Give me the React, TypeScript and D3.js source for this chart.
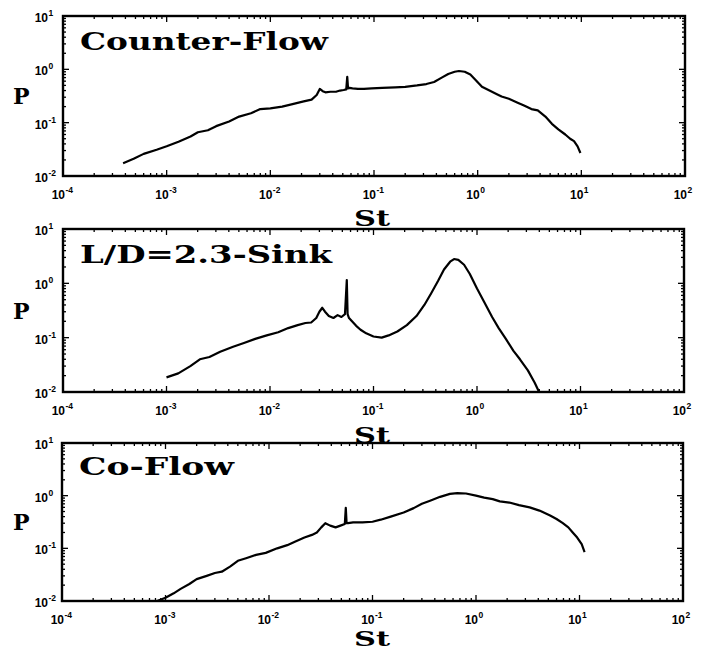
import React from "react";
import * as d3 from "d3";

// ---------- data ----------
const xTickExps = [-4, -3, -2, -1, 0, 1, 2];
const yTickExps = [-2, -1, 0, 1];
const panelTitles = ["Counter-Flow", "L/D=2.3-Sink", "Co-Flow"];

const counterSt = [0.00038, 0.00048, 0.0006, 0.0008, 0.001, 0.0013, 0.0017, 0.002, 0.0025, 0.003, 0.004, 0.005, 0.0065, 0.008, 0.01, 0.013, 0.016, 0.021, 0.025, 0.028, 0.030, 0.032, 0.034, 0.038, 0.043, 0.047, 0.051, 0.054, 0.0552, 0.0562, 0.058, 0.062, 0.07, 0.08, 0.095, 0.12, 0.16, 0.2, 0.26, 0.32, 0.38, 0.45, 0.52, 0.6, 0.66, 0.75, 0.85, 0.95, 1.1, 1.3, 1.5, 1.7, 2.0, 2.4, 2.8, 3.3, 3.8, 4.5, 5.2, 6.0, 7.0, 7.8, 8.5, 9.2, 9.8];
const counterP = [0.0174, 0.021, 0.026, 0.031, 0.036, 0.044, 0.055, 0.066, 0.072, 0.086, 0.105, 0.13, 0.15, 0.18, 0.186, 0.2, 0.22, 0.25, 0.27, 0.33, 0.43, 0.39, 0.37, 0.38, 0.38, 0.40, 0.41, 0.42, 0.72, 0.44, 0.45, 0.44, 0.43, 0.43, 0.44, 0.45, 0.46, 0.47, 0.50, 0.53, 0.58, 0.70, 0.82, 0.90, 0.93, 0.90, 0.80, 0.64, 0.47, 0.40, 0.35, 0.31, 0.28, 0.24, 0.21, 0.18, 0.17, 0.13, 0.095, 0.075, 0.06, 0.05, 0.045, 0.036, 0.027];

const sinkSt = [0.001, 0.0013, 0.0017, 0.0021, 0.0026, 0.0033, 0.0044, 0.0056, 0.0072, 0.0093, 0.012, 0.015, 0.0185, 0.022, 0.025, 0.028, 0.030, 0.032, 0.034, 0.037, 0.041, 0.045, 0.049, 0.053, 0.0552, 0.0562, 0.058, 0.062, 0.068, 0.075, 0.085, 0.1, 0.12, 0.14, 0.17, 0.21, 0.26, 0.31, 0.36, 0.42, 0.48, 0.55, 0.6, 0.66, 0.75, 0.85, 1.0, 1.17, 1.4, 1.62, 1.9, 2.25, 2.6, 3.1, 3.6, 3.95];
const sinkP = [0.0186, 0.022, 0.03, 0.04, 0.044, 0.055, 0.068, 0.08, 0.095, 0.11, 0.126, 0.15, 0.17, 0.186, 0.19, 0.23, 0.30, 0.355, 0.30, 0.25, 0.23, 0.26, 0.24, 0.27, 1.15, 0.27, 0.23, 0.2, 0.165, 0.14, 0.12, 0.105, 0.10, 0.11, 0.13, 0.17, 0.25, 0.40, 0.65, 1.1, 1.8, 2.5, 2.8, 2.7, 2.2, 1.5, 0.8, 0.46, 0.24, 0.15, 0.095, 0.057, 0.04, 0.025, 0.015, 0.0103];

const coSt = [0.00083, 0.001, 0.0012, 0.0014, 0.0017, 0.002, 0.0025, 0.003, 0.0035, 0.0042, 0.005, 0.006, 0.0075, 0.0093, 0.012, 0.015, 0.018, 0.022, 0.026, 0.029, 0.032, 0.035, 0.039, 0.044, 0.049, 0.054, 0.0552, 0.0562, 0.058, 0.065, 0.08, 0.1, 0.12, 0.15, 0.2, 0.25, 0.3, 0.36, 0.45, 0.56, 0.66, 0.8, 1.0, 1.2, 1.45, 1.7, 2.1, 2.6, 3.3, 4.1, 5.2, 6.0, 6.9, 7.8, 8.6, 9.5, 10.5, 11.2];
const coP = [0.0098, 0.0115, 0.014, 0.017, 0.021, 0.026, 0.03, 0.034, 0.036, 0.045, 0.058, 0.065, 0.075, 0.082, 0.1, 0.115, 0.135, 0.16, 0.18, 0.2, 0.25, 0.30, 0.27, 0.25, 0.27, 0.29, 0.59, 0.30, 0.30, 0.31, 0.31, 0.32, 0.35, 0.40, 0.48, 0.58, 0.70, 0.80, 0.95, 1.08, 1.12, 1.1, 1.0, 0.92, 0.86, 0.78, 0.74, 0.66, 0.6, 0.52, 0.42, 0.36, 0.3, 0.25, 0.2, 0.16, 0.12, 0.085];

const seriesSt = [counterSt, sinkSt, coSt];
const seriesP = [counterP, sinkP, coP];

// ---------- layout ----------
const W = 704;
const H = 651;
const boxes = [
  { left: 63, right: 685, top: 16, bottom: 176 },
  { left: 63, right: 684, top: 229, bottom: 392 },
  { left: 62, right: 683, top: 443, bottom: 601 },
];

const labelFont = "'Liberation Sans', Arial, sans-serif";
const serif = "'DejaVu Serif', 'Liberation Serif', serif";

function PowLabel({ x, y, e }: { x: number; y: number; e: number }) {
  // "10" then superscript exponent; (x,y) is the junction point between base and exponent
  return (
    <g fill="#000" fontFamily={labelFont} fontWeight="bold">
      <text x={x} y={y} textAnchor="end" fontSize={12}>
        10
      </text>
      <text x={x + 0.5} y={y - 6} textAnchor="start" fontSize={8.5}>
        {String(e)}
      </text>
    </g>
  );
}

function Panel({ idx }: { idx: number }) {
  const b = boxes[idx];
  const x = d3.scaleLog().domain([1e-4, 1e2]).range([b.left, b.right]);
  const y = d3.scaleLog().domain([1e-2, 1e1]).range([b.bottom, b.top]).clamp(true);
  const st = seriesSt[idx];
  const p = seriesP[idx];
  const pts: [number, number][] = st.map((s, i) => [s, p[i]]);
  const line = d3
    .line<[number, number]>()
    .x((d) => x(d[0]))
    .y((d) => y(d[1]))
    .curve(d3.curveLinear);

  const xMinor: number[] = [];
  for (let e = -4; e < 2; e++) for (let m = 2; m <= 9; m++) xMinor.push(m * Math.pow(10, e));
  const yMinor: number[] = [];
  for (let e = -2; e < 1; e++) for (let m = 2; m <= 9; m++) yMinor.push(m * Math.pow(10, e));

  const tickEls: React.ReactNode[] = [];
  xTickExps.forEach((e) => {
    const px = x(Math.pow(10, e));
    tickEls.push(<line key={"xb" + e} x1={px} x2={px} y1={b.bottom} y2={b.bottom - 6} />);
    tickEls.push(<line key={"xt" + e} x1={px} x2={px} y1={b.top} y2={b.top + 6} />);
  });
  xMinor.forEach((v, i) => {
    const px = x(v);
    tickEls.push(<line key={"xmb" + i} x1={px} x2={px} y1={b.bottom} y2={b.bottom - 3} />);
    tickEls.push(<line key={"xmt" + i} x1={px} x2={px} y1={b.top} y2={b.top + 3} />);
  });
  yTickExps.forEach((e) => {
    const py = y(Math.pow(10, e));
    tickEls.push(<line key={"yl" + e} x1={b.left} x2={b.left + 6} y1={py} y2={py} />);
    tickEls.push(<line key={"yr" + e} x1={b.right} x2={b.right - 6} y1={py} y2={py} />);
  });
  yMinor.forEach((v, i) => {
    const py = y(v);
    tickEls.push(<line key={"yml" + i} x1={b.left} x2={b.left + 3} y1={py} y2={py} />);
    tickEls.push(<line key={"ymr" + i} x1={b.right} x2={b.right - 3} y1={py} y2={py} />);
  });

  const titleLen = [248, 252, 155][idx];
  const titleBase = [50, 263, 475][idx];
  const stBase = [50, 51, 45][idx];
  const stSize = [23, 23, 21][idx];

  return (
    <g>
      <g stroke="#000" strokeWidth={1.3}>{tickEls}</g>
      <rect
        x={b.left}
        y={b.top}
        width={b.right - b.left}
        height={b.bottom - b.top}
        fill="none"
        stroke="#000"
        strokeWidth={2.4}
      />
      <path d={line(pts) || ""} fill="none" stroke="#000" strokeWidth={2.2} strokeLinejoin="round" />
      {xTickExps.map((e) => (
        <PowLabel key={"xl" + e} x={x(Math.pow(10, e)) + 2} y={b.bottom + 23} e={e} />
      ))}
      {yTickExps.map((e) => (
        <PowLabel key={"yl" + e} x={48} y={y(Math.pow(10, e)) + 6} e={e} />
      ))}
      <text
        x={b.left + 17}
        y={titleBase}
        fontFamily={serif}
        fontWeight="bold"
        fontSize={24}
        textLength={titleLen}
        lengthAdjust="spacingAndGlyphs"
        fill="#000"
      >
        {panelTitles[idx]}
      </text>
      <text
        x={13}
        y={(b.top + b.bottom) / 2 + 8}
        fontFamily={serif}
        fontWeight="bold"
        fontSize={22}
        fill="#000"
      >
        P
      </text>
      <text
        x={354}
        y={b.bottom + stBase}
        fontFamily={serif}
        fontWeight="bold"
        fontSize={stSize}
        textLength={36}
        lengthAdjust="spacingAndGlyphs"
        fill="#000"
      >
        St
      </text>
    </g>
  );
}

export default function App() {
  return (
    <svg
      width={W}
      height={H}
      viewBox={`0 0 ${W} ${H}`}
      style={{ position: "absolute", left: 0, top: 0, background: "#fff" }}
    >
      <rect x={0} y={0} width={W} height={H} fill="#fff" />
      <Panel idx={0} />
      <Panel idx={1} />
      <Panel idx={2} />
    </svg>
  );
}
